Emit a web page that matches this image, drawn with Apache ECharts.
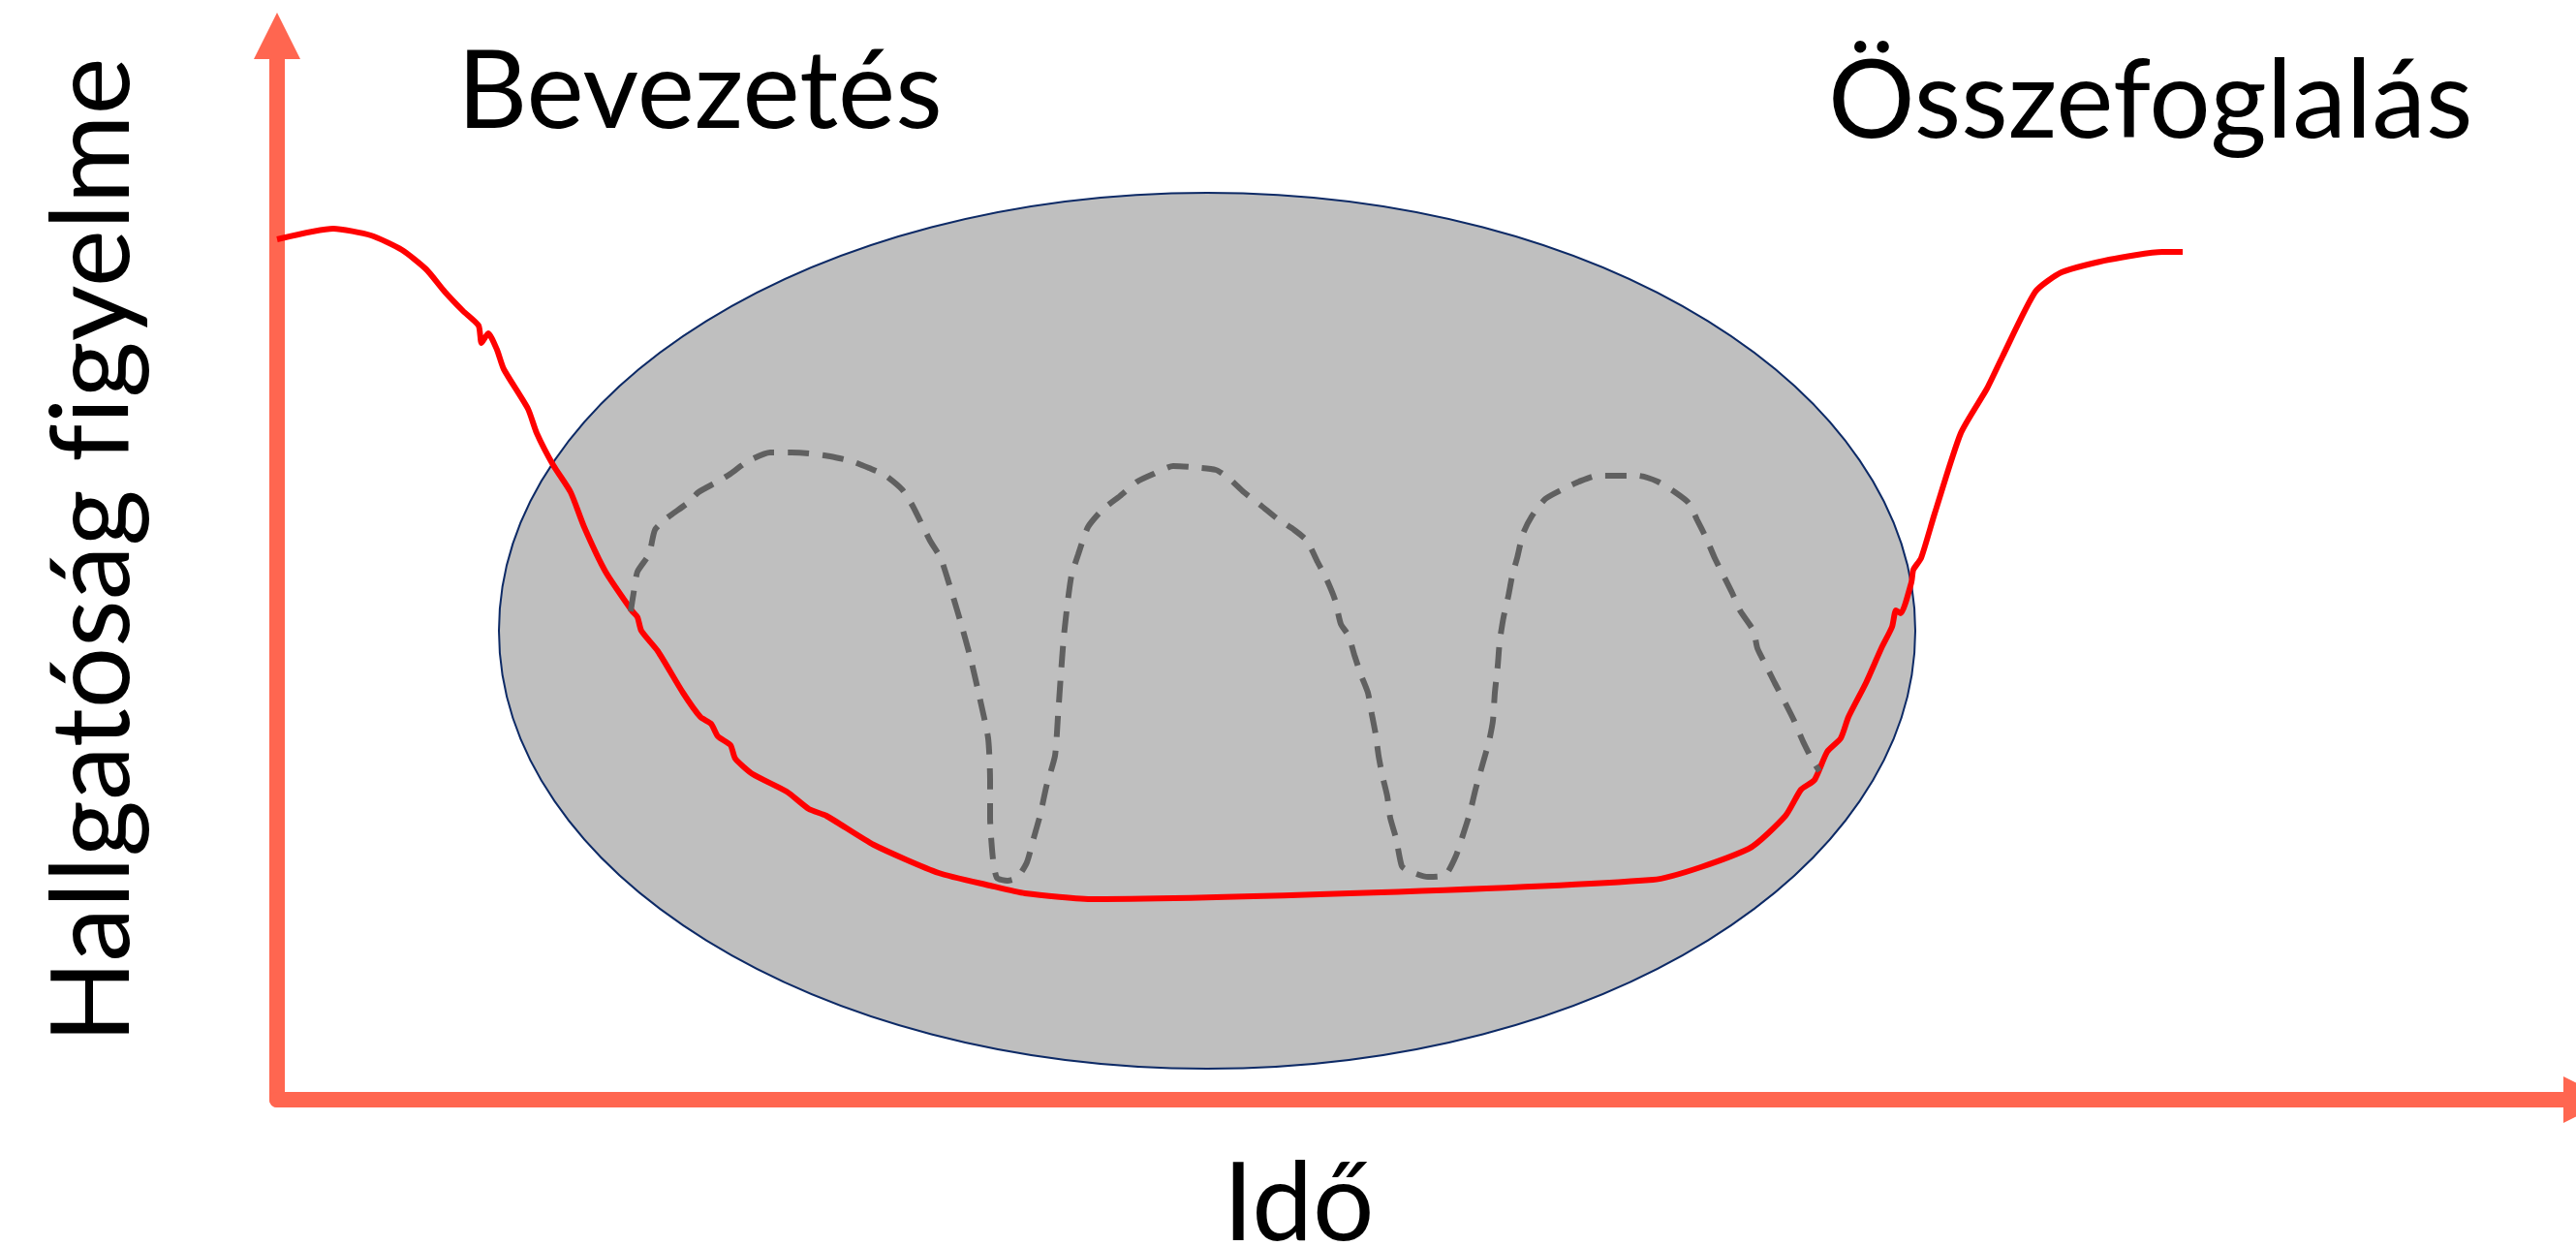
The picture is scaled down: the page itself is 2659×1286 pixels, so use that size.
<!DOCTYPE html>
<html>
<head>
<meta charset="UTF-8">
<script type="text/javascript" src="https://cdn.jsdelivr.net/npm/echarts@6/dist/echarts.min.js"></script>
<title>Figyelem</title>
<style>
  html, body { margin: 0; padding: 0; background: #fff; }
</style>
</head>
<body>
	<div id="main" style="width:2659px;height:1286px;"></div>
	<script type="text/javascript">
		// ido (x) es figyelem (y), onkenyes egysegekben
		var attention = [
			[0,888],[58,899],[97,892],[129,877],[154,857],[173,834],[192,814],[208,799],
			[211,781],[218,791],[227,774],[234,754],[259,713],[268,688],[285,655],[303,627],
			[317,591],[339,545],[366,505],[372,498],[376,484],[393,463],[419,420],[437,395],
			[448,388],[455,375],[468,366],[473,352],[491,336],[526,318],[549,300],[567,293],
			[616,263],[683,234],[736,221],[772,213],[843,207],[1420,227],[1519,259],[1557,293],
			[1573,320],[1587,330],[1600,359],[1614,373],[1622,395],[1640,430],[1656,466],[1667,488],
			[1671,505],[1676,502],[1687,534],[1689,547],[1697,559],[1711,605],[1738,688],[1765,734],
			[1781,767],[1815,834],[1842,854],[1891,867],[1946,875],[1967,875]
		];
		var activeAttention = [
			[365,504],[368,523],[372,545],[384,563],[390,588],[402,600],[424,616],[435,627],
			[455,638],[468,646],[486,659],[509,668],[531,668],[549,667],[571,664],[593,659],
			[611,652],[627,645],[645,630],[656,613],[674,577],[685,559],[692,538],[705,495],
			[716,455],[725,416],[734,373],[736,330],[736,291],[739,248],[743,229],[754,226],
			[764,229],[774,245],[781,270],[788,295],[794,323],[803,355],[806,395],[809,438],
			[812,477],[816,513],[820,541],[827,563],[837,591],[852,609],[870,623],[888,638],
			[905,646],[925,654],[943,653],[969,650],[983,641],[998,627],[1016,613],[1032,600],
			[1050,588],[1063,577],[1074,555],[1083,538],[1092,516],[1098,491],[1106,479],[1112,459],
			[1119,438],[1126,420],[1130,398],[1134,377],[1137,355],[1141,334],[1146,313],[1149,291],
			[1155,270],[1161,241],[1168,236],[1188,230],[1206,232],[1217,252],[1224,273],[1231,295],
			[1237,320],[1244,345],[1251,370],[1255,391],[1257,420],[1260,448],[1262,473],[1266,498],
			[1271,520],[1275,541],[1280,559],[1286,584],[1295,602],[1309,620],[1327,630],[1344,638],
			[1362,644],[1382,644],[1405,644],[1425,638],[1443,627],[1457,616],[1466,598],[1475,580],
			[1484,559],[1493,541],[1502,523],[1510,505],[1524,484],[1528,466],[1537,448],[1546,430],
			[1557,409],[1566,391],[1575,370],[1584,352],[1592,339]
		];
		// kozeppont x, y es ket felten
		var middleZone = [[960,484,731,452]];
		var sectionNames = ['Bevezetés','Összefoglalás'];
		var xName = 'Idő';
		var yName = 'Hallgatóság f\u200Cigyelme';

		var font = 'Lato';
		var axisColor = '#ff6650';
		var textStyle = {fontFamily:font,fontSize:112,fontWeight:'normal',color:'#000'};
		var myChart = echarts.init(document.getElementById("main"));

		var option = {
				animation:false,
				title:[
					{text:sectionNames[0],left:472,top:40,padding:0,textStyle:textStyle},
					{text:sectionNames[1],left:1887,top:50,padding:0,textStyle:textStyle}
				],
				grid:{left:286,right:0,top:61,bottom:151,outerBoundsMode:'none'},
				xAxis:{
					type:'value',min:0,max:2373,
					name:xName,nameLocation:'middle',nameGap:53,
					nameTextStyle:Object.assign({padding:[0,264,0,0]},textStyle),
					axisLine:{show:true,symbol:['none','triangle'],symbolSize:[48,48],symbolOffset:[0,11],
						lineStyle:{color:axisColor,width:16}},
					axisTick:{show:false},axisLabel:{show:false},splitLine:{show:false}
				},
				yAxis:{
					type:'value',min:0,max:1074,
					name:yName,nameLocation:'middle',nameGap:133,nameRotate:90,
					nameTextStyle:Object.assign({padding:[0,0,0,60]},textStyle),
					axisLine:{show:true,symbol:['none','triangle'],symbolSize:[48,48],symbolOffset:[0,24],
						lineStyle:{color:axisColor,width:16}},
					axisTick:{show:false},axisLabel:{show:false},splitLine:{show:false}
				},
				series:[
					{
						type:'custom',
						z:1,
						data:middleZone,
						renderItem:function(params, api){
							var c = api.coord([api.value(0), api.value(1)]);
							var s = api.size([api.value(2), api.value(3)]);
							return {
								type:'ellipse',
								shape:{cx:c[0],cy:c[1],rx:s[0],ry:s[1]},
								style:{fill:'#bfbfbf',stroke:'#0d2a66',lineWidth:2}
							};
						}
					},
					{
						type:'line',
						z:2,
						data:attention,
						smooth:0.2,
						symbol:'none',
						lineStyle:{color:'#ff0000',width:6}
					},
					{
						type:'line',
						z:3,
						data:activeAttention,
						smooth:0.2,
						symbol:'none',
						lineStyle:{color:'#606060',width:6,type:[22,14]}
					}
				]
		};
		myChart.setOption(option);
	</script>
</body>
</html>
